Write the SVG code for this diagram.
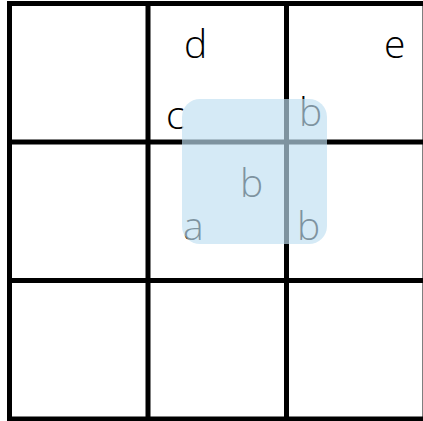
<svg xmlns="http://www.w3.org/2000/svg" width="423" height="421" viewBox="0 0 423 421">
  <style>
    .grid line { stroke: #000; stroke-width: 5; stroke-linecap: square; }
    .lbl { font-family: "Open Sans", "Liberation Sans", sans-serif; font-weight: 300; font-size: 39px; fill: #000; }
    .hl { fill: #c0dff1; fill-opacity: 0.66; }
  </style>
  <rect width="423" height="421" fill="#fff"/>
  <g id="grid" class="grid">
    <line x1="9.5" y1="3.5" x2="9.5" y2="419"/>
    <line x1="148" y1="3.5" x2="148" y2="419"/>
    <line x1="286.5" y1="3.5" x2="286.5" y2="419"/>
    <line x1="425" y1="3.5" x2="425" y2="419"/>
    <line x1="9.5" y1="3.5" x2="425" y2="3.5"/>
    <line x1="9.5" y1="142" x2="425" y2="142"/>
    <line x1="9.5" y1="280.5" x2="425" y2="280.5"/>
    <line x1="9.5" y1="419" x2="425" y2="419"/>
  </g>
  <g id="labels">
    <text class="lbl" x="184" y="58">d</text>
    <text class="lbl" x="384" y="58">e</text>
    <text class="lbl" x="166" y="129">c</text>
    <text class="lbl" x="299" y="126">b</text>
    <text class="lbl" x="240" y="197">b</text>
    <text class="lbl" x="183" y="240">a</text>
    <text class="lbl" x="297" y="240">b</text>
  </g>
  <g id="highlight">
    <rect class="hl" x="182" y="99" width="145" height="145" rx="18" ry="18"/>
  </g>
</svg>
